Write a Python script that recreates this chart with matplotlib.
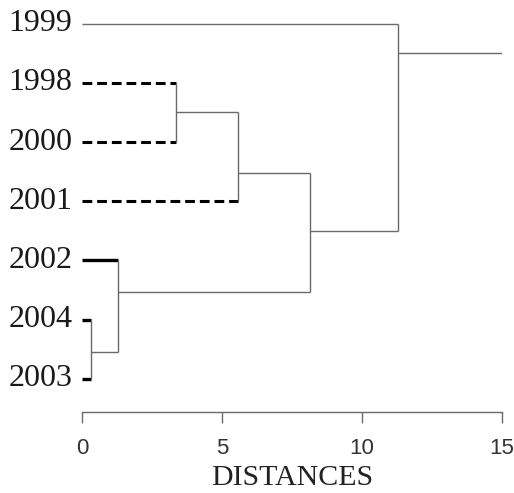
'''
 Dendrogram of years by distance (SPSS style)
'''

import matplotlib
matplotlib.use('Agg')
import matplotlib.pyplot as plt

# leaves, top to bottom
years = ['1999', '1998', '2000', '2001', '2002', '2004', '2003']
leaf_styles = ['thin', 'dash', 'dash', 'dash', 'bold', 'bold', 'bold']

# merges: (child a, child b, distance, row of the new node)
# children are leaf names or earlier node ids 'n0', 'n1', ...
merge_a = ['1998', 'n0', '2004', '2002', 'n1', '1999']
merge_b = ['2000', '2001', '2003', 'n2', 'n3', 'n4']
merge_dist = [3.36, 5.57, 0.32, 1.29, 8.14, 11.3]
merge_row = [1.5, 2.52, 5.54, 4.53, 3.51, 0.5]

root_end = 15
x_ticks = [0, 5, 10, 15]


def draw_dendrogram(ax):
    '''
    Walks over the merges and draws each link as elbow lines
    '''
    thin = dict(color='#6a6a6a', lw=1.0, solid_capstyle='butt')
    pos = {}
    for i, year in enumerate(years):
        pos[year] = (0.0, i)

    # leaf lines go to the first merge they belong to
    merge_of = {}
    for k in range(len(merge_a)):
        merge_of[merge_a[k]] = k
        merge_of[merge_b[k]] = k

    for k in range(len(merge_a)):
        pos['n' + str(k)] = (merge_dist[k], merge_row[k])

    for child, k in merge_of.items():
        x0, y0 = pos[child]
        x1 = merge_dist[k]
        if child in years:
            style = leaf_styles[years.index(child)]
            if style == 'dash':
                ax.plot([x0, x1], [y0, y0], color='black', lw=2.2,
                        ls=(0, (3.2, 1.6)))
            elif style == 'bold':
                ax.plot([x0, x1], [y0, y0], color='black', lw=2.4,
                        solid_capstyle='butt')
            else:
                ax.plot([x0, x1], [y0, y0], **thin)
        else:
            ax.plot([x0, x1], [y0, y0], **thin)

    for k in range(len(merge_a)):
        ya = pos[merge_a[k]][1]
        yb = pos[merge_b[k]][1]
        ax.plot([merge_dist[k], merge_dist[k]], [ya, yb], **thin)

    # root line
    last = len(merge_a) - 1
    ax.plot([merge_dist[last], root_end], [merge_row[last]] * 2, **thin)


fig = plt.figure(figsize=(5.14, 4.93), dpi=100)
ax = fig.add_axes([82 / 514, (493 - 412) / 493, (502 - 82) / 514, 412 / 493])
draw_dendrogram(ax)

ax.set_xlim(0, 15)
ax.set_ylim(6.56, -0.40)
for side in ['top', 'right', 'left']:
    ax.spines[side].set_visible(False)
ax.spines['bottom'].set_color('#6a6a6a')
ax.spines['bottom'].set_linewidth(1.0)
ax.set_yticks([])
ax.set_xticks(x_ticks)
ax.set_xticklabels([str(t) for t in x_ticks], family='Liberation Sans',
                   fontsize=16, color='#333333')
ax.tick_params(axis='x', length=8, width=1.0, color='#6a6a6a', pad=11)
ax.set_xlabel('DISTANCES', family='Liberation Serif', fontsize=21.5,
              color='#222222', labelpad=4)

for i, year in enumerate(years):
    ax.text(-0.35, i, year, ha='right', va='center', family='Liberation Serif',
            fontsize=23, color='#1a1a1a', clip_on=False)

fig.savefig('out.png', dpi=100)
